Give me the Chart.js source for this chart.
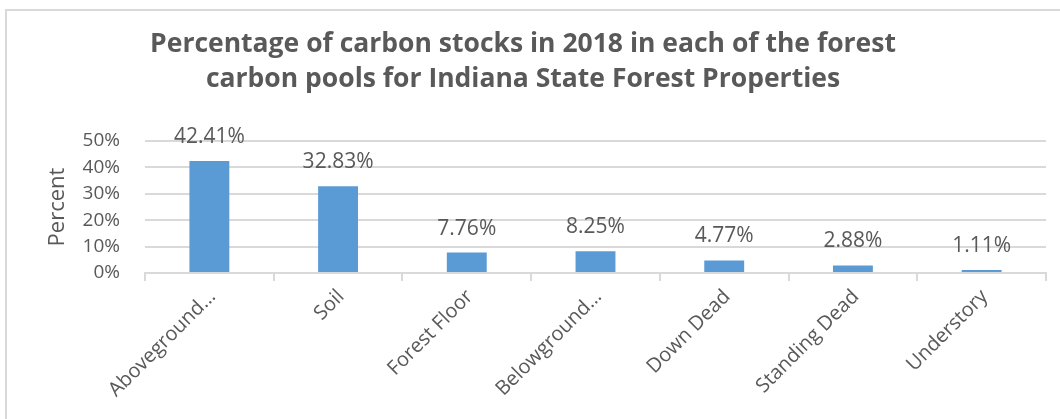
<!DOCTYPE html>
<html>
<head>
<meta charset="utf-8">
<script src="https://cdn.jsdelivr.net/npm/chart.js@4/dist/chart.umd.min.js"></script>
<style>
  html, body { margin: 0; padding: 0; background: #fff; overflow: hidden; }
  #wrap { position: relative; width: 1060px; height: 419px; }
  #frame { position: absolute; left: 5px; top: 9px; width: 1200px; height: 600px; border: 2px solid #d9d9d9; box-sizing: border-box; }
  canvas { position: absolute; left: 0; top: 0; }
</style>
</head>
<body>
<div id="wrap">
  <div id="frame"></div>
  <canvas id="chart" width="1060" height="419"></canvas>
</div>
<script>
// data
const pools = ["Aboveground…", "Soil", "Forest Floor", "Belowground…", "Down Dead", "Standing Dead", "Understory"];
const percentages = [42.41, 32.83, 7.76, 8.25, 4.77, 2.88, 1.11];
const titleLines = ["Percentage of carbon stocks in 2018 in each of the forest", "carbon pools for Indiana State Forest Properties"];
const yTicks = [0, 10, 20, 30, 40, 50];

const textGray = "#595959";
const lineGray = "#d9d9d9";
const barBlue = "#5b9bd5";

// labels on top of each bar
const valueLabels = {
  id: "valueLabels",
  afterDatasetsDraw(chart) {
    const ctx = chart.ctx;
    const meta = chart.getDatasetMeta(0);
    ctx.save();
    ctx.font = "21px 'Open Sans'";
    ctx.fillStyle = textGray;
    ctx.textAlign = "center";
    ctx.textBaseline = "alphabetic";
    meta.data.forEach((bar, i) => {
      ctx.fillText(percentages[i].toFixed(2) + "%", bar.x, bar.y - 18);
    });
    ctx.restore();
  }
};

const ctx = document.getElementById("chart");
new Chart(ctx, {
  type: "bar",
  data: {
    labels: pools,
    datasets: [{
      data: percentages,
      backgroundColor: barBlue,
      barPercentage: 0.62,
      categoryPercentage: 0.5
    }]
  },
  plugins: [valueLabels],
  options: {
    responsive: false,
    animation: false,
    layout: { padding: { left: 0, right: 14, top: 0, bottom: 0 } },
    plugins: {
      legend: { display: false },
      tooltip: { enabled: false },
      title: {
        display: true,
        text: titleLines,
        color: textGray,
        font: { family: "Open Sans", weight: "bold", size: 26.5, lineHeight: 1.32 },
        padding: { top: 27, bottom: 44 }
      }
    },
    scales: {
      x: {
        grid: { drawOnChartArea: false, drawTicks: true, tickLength: 8, color: lineGray, lineWidth: 2 },
        border: { display: true, color: lineGray, width: 2 },
        ticks: {
          color: textGray,
          font: { family: "Open Sans", size: 20 },
          maxRotation: 45,
          minRotation: 45,
          autoSkip: false,
          padding: 4,
          labelOffset: 3
        },
        afterFit(scale) { scale.height = 146; }
      },
      y: {
        min: 0,
        max: 50,
        afterBuildTicks(scale) { scale.ticks = yTicks.map(v => ({ value: v })); },
        grid: { color: lineGray, lineWidth: 2, drawTicks: false },
        border: { display: false },
        ticks: {
          color: textGray,
          font: { family: "Open Sans", size: 19 },
          padding: 25,
          callback: v => v + "%"
        },
        title: {
          display: true,
          text: "Percent",
          color: textGray,
          font: { family: "Open Sans", size: 22 },
          padding: { top: 45, bottom: 0 }
        },
        afterFit(scale) { scale.width = 145; }
      }
    }
  }
});
</script>
</body>
</html>
